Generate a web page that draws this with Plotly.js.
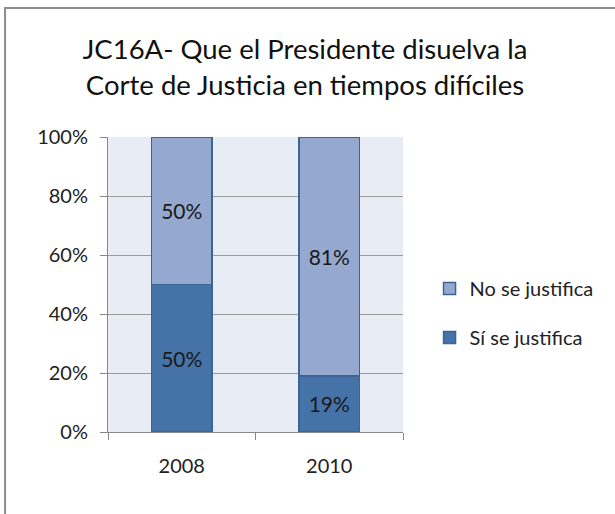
<!DOCTYPE html>
<html><head><meta charset="utf-8">
<script src="https://cdn.plot.ly/plotly-3.0.1.min.js"></script>
<style>body{margin:0;background:#fff}#c{width:615px;height:514px}</style>
</head><body><div id="c"></div>
<script>
const years = ['2008', '2010'];
const siJustifica = [50, 19];
const noJustifica = [50, 81];
const seriesNames = ['Sí se justifica', 'No se justifica'];
const yTickVals = [0, 20, 40, 60, 80, 100];
const yTickText = ['0%', '20%', '40%', '60%', '80%', '100%'];

const font = 'Lato, "Open Sans", sans-serif';
const traces = [
  {type:'bar', x:years, y:siJustifica, name:seriesNames[0], legendgroup:'a', legendrank:2,
   marker:{color:'#4572A7', line:{color:'#3A6594', width:1.5}},
   text:siJustifica.map(v=>v+'%'), textposition:'inside', insidetextanchor:'middle',
   textfont:{family:font, size:21, color:'#1a1a1a'}, hoverinfo:'none'},
  {type:'bar', x:years, y:noJustifica, name:seriesNames[1], legendgroup:'b', legendrank:1,
   marker:{color:'#95A9D0', line:{color:'#3A6594', width:1.5}},
   text:noJustifica.map(v=>v+'%'), textposition:'inside', insidetextanchor:'middle',
   textfont:{family:font, size:21, color:'#1a1a1a'}, hoverinfo:'none'}
];
const layout = {
  width:615, height:514,
  margin:{l:108, r:212, t:137, b:82},
  paper_bgcolor:'#ffffff', plot_bgcolor:'#E8EDF5',
  barmode:'stack', bargap:0.59,
  font:{family:font, color:'#222'},
  title:{text:'JC16A- Que el Presidente disuelva la<br>Corte de Justicia en tiempos difíciles',
         font:{family:font, size:27.5, color:'#111'}, x:0.496, xanchor:'center', y:0.885, yanchor:'top'},
  xaxis:{type:'category', tickson:'boundaries', ticks:'outside', ticklen:7, tickcolor:'#888',
         showline:true, linecolor:'#888', linewidth:1, showgrid:false, ticklabelstandoff:16,
         tickfont:{family:font, size:20, color:'#222'}, fixedrange:true},
  yaxis:{range:[0,100], tickvals:yTickVals, ticktext:yTickText, ticks:'outside', ticklen:7, tickcolor:'#888',
         showline:true, linecolor:'#888', linewidth:1, gridcolor:'#9a9a9a', gridwidth:1, ticklabelstandoff:8,
         tickfont:{family:font, size:20, color:'#222'}, zeroline:false, fixedrange:true},
  legend:{x:1.09, y:0.403, xanchor:'left', yanchor:'middle', font:{family:font, size:20, color:'#222'},
          itemwidth:30, tracegroupgap:20, traceorder:'grouped'},
  shapes:[{type:'rect', xref:'paper', yref:'paper', x0:-0.349, x1:1.75, y0:-0.3, y1:1.437,
           line:{color:'#8c8c8c', width:2}, fillcolor:'rgba(0,0,0,0)', layer:'below'}],
  showlegend:true
};
Plotly.newPlot('c', traces, layout, {displayModeBar:false, staticPlot:true});
</script></body></html>
